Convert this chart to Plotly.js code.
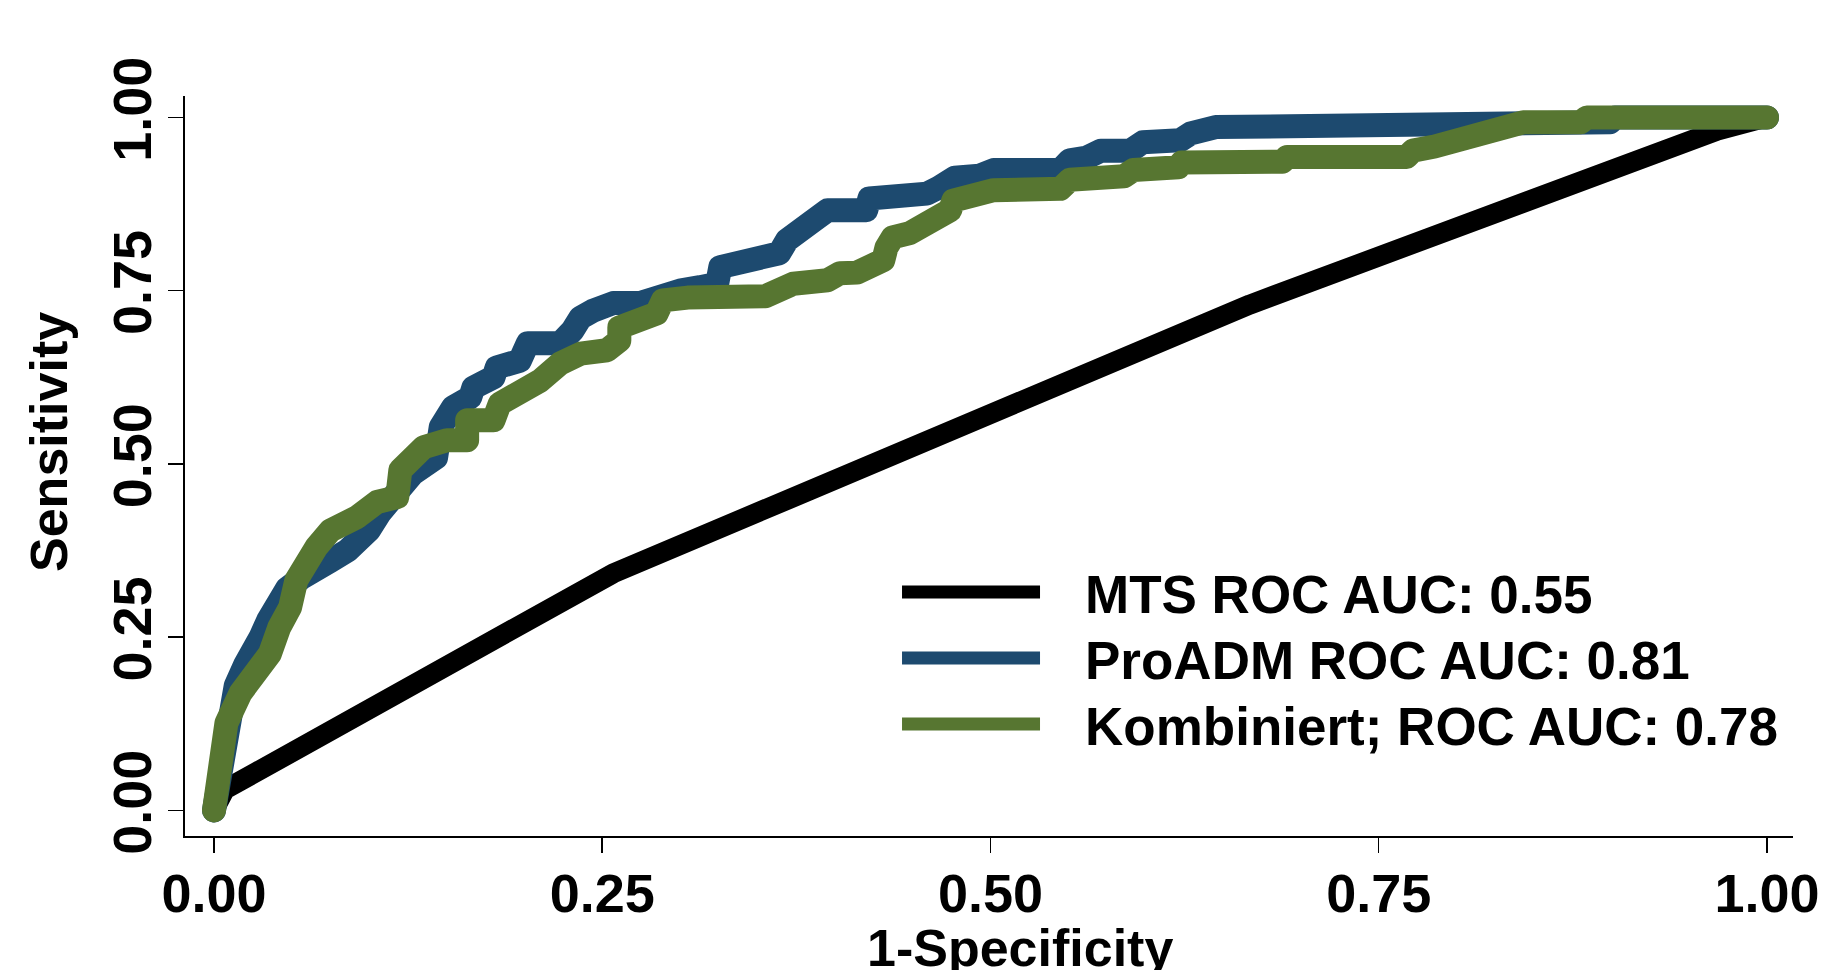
<!DOCTYPE html>
<html>
<head>
<meta charset="utf-8">
<script src="https://cdn.plot.ly/plotly-3.0.1.min.js"></script>
<style>
html,body{margin:0;padding:0;background:#fff;}
#chart{width:1823px;height:970px;}
.scatterlayer .js-line{stroke-linejoin:round !important;stroke-linecap:round !important;}
</style>
</head>
<body>
<div id="chart"></div>
<script>
// ---- data ----
const seriesNames = ["MTS ROC AUC: 0.55", "ProADM ROC AUC: 0.81", "Kombiniert; ROC AUC: 0.78"];

const mtsX = [0, 0.007, 0.257, 0.667, 0.968, 1];
const mtsY = [0, 0.03, 0.342, 0.73, 0.981, 1];

const proadmX = [0, 0.002, 0.005, 0.009, 0.012, 0.014, 0.020, 0.024, 0.030, 0.035, 0.042, 0.047, 0.056, 0.066, 0.075, 0.086, 0.096, 0.100, 0.107, 0.113, 0.120, 0.128, 0.143, 0.146, 0.154, 0.165, 0.167, 0.180, 0.182, 0.197, 0.202, 0.223, 0.231, 0.236, 0.244, 0.257, 0.274, 0.283, 0.300, 0.313, 0.324, 0.326, 0.334, 0.355, 0.364, 0.369, 0.375, 0.386, 0.395, 0.420, 0.422, 0.442, 0.459, 0.467, 0.477, 0.493, 0.502, 0.545, 0.551, 0.562, 0.571, 0.590, 0.598, 0.622, 0.629, 0.645, 0.703, 0.706, 0.899, 0.902, 1];
const proadmY = [0, 0.030, 0.070, 0.110, 0.150, 0.180, 0.210, 0.235, 0.250, 0.275, 0.300, 0.320, 0.335, 0.345, 0.360, 0.375, 0.390, 0.405, 0.430, 0.450, 0.470, 0.486, 0.509, 0.553, 0.582, 0.596, 0.610, 0.625, 0.639, 0.649, 0.674, 0.674, 0.693, 0.711, 0.721, 0.732, 0.732, 0.740, 0.750, 0.755, 0.760, 0.784, 0.789, 0.796, 0.804, 0.823, 0.837, 0.851, 0.866, 0.866, 0.883, 0.885, 0.890, 0.899, 0.913, 0.916, 0.924, 0.924, 0.938, 0.942, 0.952, 0.952, 0.964, 0.967, 0.977, 0.986, 0.986, 0.993, 0.993, 1.0, 1];

const kombX = [0, 0.001, 0.004, 0.008, 0.017, 0.028, 0.036, 0.042, 0.049, 0.053, 0.060, 0.066, 0.075, 0.083, 0.092, 0.105, 0.118, 0.120, 0.128, 0.135, 0.150, 0.163, 0.163, 0.180, 0.184, 0.197, 0.210, 0.223, 0.236, 0.253, 0.261, 0.261, 0.274, 0.285, 0.289, 0.305, 0.355, 0.364, 0.373, 0.395, 0.403, 0.414, 0.422, 0.431, 0.433, 0.437, 0.448, 0.459, 0.467, 0.474, 0.476, 0.491, 0.502, 0.545, 0.551, 0.586, 0.592, 0.621, 0.623, 0.688, 0.691, 0.768, 0.772, 0.786, 0.798, 0.815, 0.834, 0.843, 0.880, 0.884, 1];
const kombY = [0, 0.030, 0.070, 0.126, 0.169, 0.206, 0.226, 0.264, 0.293, 0.332, 0.361, 0.380, 0.404, 0.418, 0.423, 0.445, 0.452, 0.491, 0.509, 0.524, 0.534, 0.534, 0.563, 0.563, 0.587, 0.602, 0.620, 0.645, 0.659, 0.664, 0.678, 0.697, 0.707, 0.717, 0.736, 0.740, 0.742, 0.750, 0.760, 0.765, 0.775, 0.776, 0.789, 0.794, 0.812, 0.827, 0.833, 0.847, 0.856, 0.866, 0.880, 0.885, 0.895, 0.897, 0.910, 0.915, 0.924, 0.928, 0.935, 0.936, 0.943, 0.943, 0.952, 0.958, 0.965, 0.972, 0.981, 0.993, 0.993, 1.0, 1];

const tickVals = [0, 0.25, 0.5, 0.75, 1];
const tickText = ["0.00", "0.25", "0.50", "0.75", "1.00"];
const xTitle = "1-Specificity";
const yTitle = "Sensitivity";

// ---- styling ----
const colors = ["#000000", "#1d4a6f", "#577631"];
const lineWidths = [20, 24, 24];
const FONT = {family: "Liberation Sans, Arial, sans-serif", size: 52, color: "#000", weight: "bold"};
const TICKFONT = Object.assign({}, FONT, {size: 54});
const LEGFONT = Object.assign({}, FONT, {size: 53});

const traces = seriesNames.map(function (nm, i) {
  const xs = [mtsX, proadmX, kombX][i], ys = [mtsY, proadmY, kombY][i];
  return {x: xs, y: ys, name: nm, mode: "lines", line: {color: colors[i], width: lineWidths[i]}};
});

const axisCommon = {
  showgrid: false, zeroline: false, showline: true, linecolor: "#000", linewidth: 2,
  ticks: "outside", ticklen: 15, tickwidth: 1.5, tickcolor: "#000",
  tickvals: tickVals, ticktext: tickText, tickfont: TICKFONT, mirror: false
};

const layout = {
  width: 1823, height: 970,
  margin: {l: 185, r: 30, t: 96, b: 134},
  paper_bgcolor: "#fff", plot_bgcolor: "#fff",
  showlegend: true,
  legend: {
    x: 0.4428, y: 0.385, xanchor: "left", yanchor: "top",
    bgcolor: "rgba(0,0,0,0)", font: LEGFONT, itemwidth: 138, tracegroupgap: 0
  },
  xaxis: Object.assign({}, axisCommon, {range: [-0.01867, 1.01675], ticklabelstandoff: -6}),
  yaxis: Object.assign({}, axisCommon, {range: [-0.03694, 1.03088], tickangle: -90, ticklabelstandoff: -5}),
  annotations: [
    {text: xTitle, xref: "paper", yref: "paper", x: 0.5193, y: -0.1514, xanchor: "center", yanchor: "middle", showarrow: false, font: FONT},
    {text: yTitle, xref: "paper", yref: "paper", x: -0.0846, y: 0.5324, xanchor: "center", yanchor: "middle", textangle: -90, showarrow: false, font: FONT}
  ]
};

const TEXT_SHIFT = 40;   // gap between legend line sample and its text
const ROW_STEP = 66;     // legend row spacing
const LEGEND_LINE_W = 13;

Plotly.newPlot("chart", traces, layout, {staticPlot: true}).then(function () {
  document.querySelectorAll(".scatterlayer .js-line").forEach(function (p) {
    p.setAttribute("stroke-linejoin", "round");
    p.setAttribute("stroke-linecap", "round");
  });
  // fine-tune legend layout (text gap, line thickness, row spacing)
  document.querySelectorAll(".legend .scrollbox, .legend").forEach(function (g) {
    g.removeAttribute("clip-path");
  });
  document.querySelectorAll(".legend .legendtext").forEach(function (t) {
    const x0 = parseFloat(t.getAttribute("x") || "0");
    t.setAttribute("x", x0 + TEXT_SHIFT);
  });
  document.querySelectorAll(".legend .legendlines path").forEach(function (p) {
    p.style.strokeWidth = LEGEND_LINE_W + "px";
    p.style.strokeLinecap = "butt";
  });
  const items = document.querySelectorAll(".legend .traces");
  let baseY = null;
  items.forEach(function (g, i) {
    const tr = g.getAttribute("transform") || "";
    const m = tr.match(/translate\(([-\d.]+)[ ,]+([-\d.]+)\)/);
    if (!m) return;
    const x = parseFloat(m[1]), y = parseFloat(m[2]);
    if (baseY === null) baseY = y;
    g.setAttribute("transform", "translate(" + x + "," + (baseY + i * ROW_STEP) + ")");
  });
});
</script>
</body>
</html>
